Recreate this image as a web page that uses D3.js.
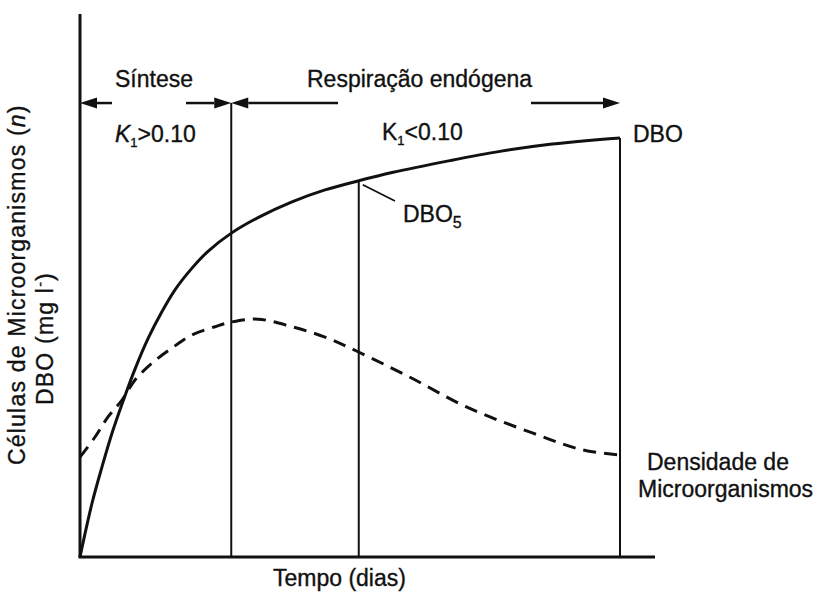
<!DOCTYPE html>
<html>
<head>
<meta charset="utf-8">
<script src="https://cdn.jsdelivr.net/npm/d3@7"></script>
<style>
  body { margin: 0; background: #fff; }
  text { font-family: "Liberation Sans", Arial, sans-serif; fill: #111; stroke: #111; stroke-width: 0.35px; }
</style>
</head>
<body>
<svg id="svg" width="823" height="592"></svg>
<script>
// time (arbitrary units) and values
var dboT   = [0, 0.48, 0.88, 1.28, 1.8, 2.2, 2.72, 3.28, 3.8, 4.48, 5.12, 6.04, 7.12, 8.48, 9.8, 11.16, 12.48, 14.8, 16.8, 18.8, 20.8, 21.6];
var dboV   = [0, 9.9, 16.6, 22.8, 29.7, 34.6, 40.2, 45.2, 49.2, 53.2, 56.3, 59.6, 62.5, 65.4, 67.6, 69.3, 70.8, 73.0, 74.7, 76.0, 76.9, 77.15];

var densT  = [0, 0.6, 1.12, 1.68, 2.2, 2.88, 3.68, 4.48, 5.4, 6.08, 7.12, 8.48, 9.8, 11.12, 13.2, 15.48, 18.12, 20.12, 21.6];
var densV  = [18.4, 22.1, 25.8, 28.9, 32.6, 35.7, 38.5, 40.9, 42.4, 43.3, 43.8, 42.4, 40.5, 37.8, 33.1, 27.6, 22.8, 19.7, 18.8];

// phase boundaries: end of synthesis, DBO5, final DBO
var marks  = [6.05, 11.15, 21.6];
var arrowY = 83.6;

var svg = d3.select("#svg");

var x = d3.scaleLinear().domain([0, 23]).range([80, 655]);
var y = d3.scaleLinear().domain([0, 100]).range([557, 14]);

var dbo  = dboT.map((t, i) => [t, dboV[i]]);
var dens = densT.map((t, i) => [t, densV[i]]);

// axes (plain lines, no ticks)
svg.append('line')
    .attr('x1', x(0)).attr('y1', y(0))
    .attr('x2', x(0)).attr('y2', y(100))
    .style('stroke', '#111').style('stroke-width', 3);
svg.append('line')
    .attr('x1', x(0) - 1.5).attr('y1', y(0))
    .attr('x2', x(23)).attr('y2', y(0))
    .style('stroke', '#111').style('stroke-width', 3);

// vertical lines
var dboAt = function(t){
    // value on the DBO curve at the mark
    for (var i = 1; i < dbo.length; i++) {
        if (dbo[i][0] >= t) {
            var a = dbo[i-1], b = dbo[i];
            return a[1] + (b[1]-a[1]) * (t-a[0]) / (b[0]-a[0]);
        }
    }
    return dbo[dbo.length-1][1];
};
var tops = [arrowY, dboAt(marks[1]), dboAt(marks[2])];
svg.selectAll('.vline')
    .data(marks)
    .enter().append('line')
    .classed('vline', true)
    .attr('x1', d => x(d)).attr('x2', d => x(d))
    .attr('y1', y(0))
    .attr('y2', (d, i) => y(tops[i]))
    .style('stroke', '#111').style('stroke-width', 2);

// curves
var line = d3.line()
    .x(d => x(d[0]))
    .y(d => y(d[1]))
    .curve(d3.curveCatmullRom.alpha(0.5));

svg.append('path')
    .attr('d', line(dbo))
    .style('fill', 'none').style('stroke', '#111').style('stroke-width', 3);

svg.append('path')
    .attr('d', line(dens))
    .style('fill', 'none').style('stroke', '#111').style('stroke-width', 3)
    .style('stroke-dasharray', '13,8');

// arrows along the top
var arrows = [
    {from: 1.28, to: 0},
    {from: 4.24, to: marks[0]},
    {from: 10.32, to: marks[0]},
    {from: 18.04, to: marks[2]}
];
var headLen = 17, headW = 5.5;
arrows.forEach(function(a){
    var x0 = x(a.from), x1 = x(a.to), yy = y(arrowY);
    var dir = x1 > x0 ? 1 : -1;
    svg.append('line')
        .attr('x1', x0).attr('y1', yy)
        .attr('x2', x1 - dir * headLen).attr('y2', yy)
        .style('stroke', '#111').style('stroke-width', 2.5);
    var p = d3.path();
    p.moveTo(x1, yy);
    p.lineTo(x1 - dir * headLen, yy - headW);
    p.lineTo(x1 - dir * headLen, yy + headW);
    p.closePath();
    svg.append('path').attr('d', p.toString()).style('fill', '#111');
});

// DBO5 leader
svg.append('line')
    .attr('x1', x(marks[1]) + 4).attr('y1', y(dboAt(marks[1])) + 4)
    .attr('x2', 395).attr('y2', 201)
    .style('stroke', '#111').style('stroke-width', 1.8);

// labels
var fs = 23;
var label = function(tx, ty, s){
    return svg.append('text').attr('x', tx).attr('y', ty)
        .style('font-size', fs + 'px').text(s);
};
label(115, 87, 'Síntese');
label(307, 87, 'Respiração endógena');
label(633, 142, 'DBO');
label(647, 470, 'Densidade de');
label(638, 497, 'Microorganismos');
label(273, 586, 'Tempo (dias)');

var k1 = svg.append('text').attr('x', 115).attr('y', 142).style('font-size', fs + 'px');
k1.append('tspan').style('font-style', 'italic').text('K');
k1.append('tspan').attr('dy', 5).style('font-size', '13px').text('1');
k1.append('tspan').attr('dy', -5).text('>0.10');

var k2 = svg.append('text').attr('x', 382).attr('y', 140).style('font-size', fs + 'px');
k2.append('tspan').text('K');
k2.append('tspan').attr('dy', 5).style('font-size', '13px').text('1');
k2.append('tspan').attr('dy', -5).text('<0.10');

var d5 = svg.append('text').attr('x', 403).attr('y', 222).style('font-size', fs + 'px');
d5.append('tspan').text('DBO');
d5.append('tspan').attr('dy', 6).style('font-size', '16px').text('5');

// y label, two rotated lines
var yl1 = svg.append('text')
    .attr('transform', 'translate(25,465) rotate(-90)')
    .style('font-size', fs + 'px').style('letter-spacing', '1.2px');
yl1.append('tspan').text('Células de Microorganismos (');
yl1.append('tspan').style('font-style', 'italic').text('n');
yl1.append('tspan').text(')');

var yl2 = svg.append('text')
    .attr('transform', 'translate(53,405) rotate(-90)')
    .style('font-size', fs + 'px').style('letter-spacing', '1.2px');
yl2.append('tspan').text('DBO (mg l');
yl2.append('tspan').attr('dy', -8).style('font-size', '14px').text('-');
yl2.append('tspan').attr('dy', 8).text(')');
</script>
</body>
</html>
